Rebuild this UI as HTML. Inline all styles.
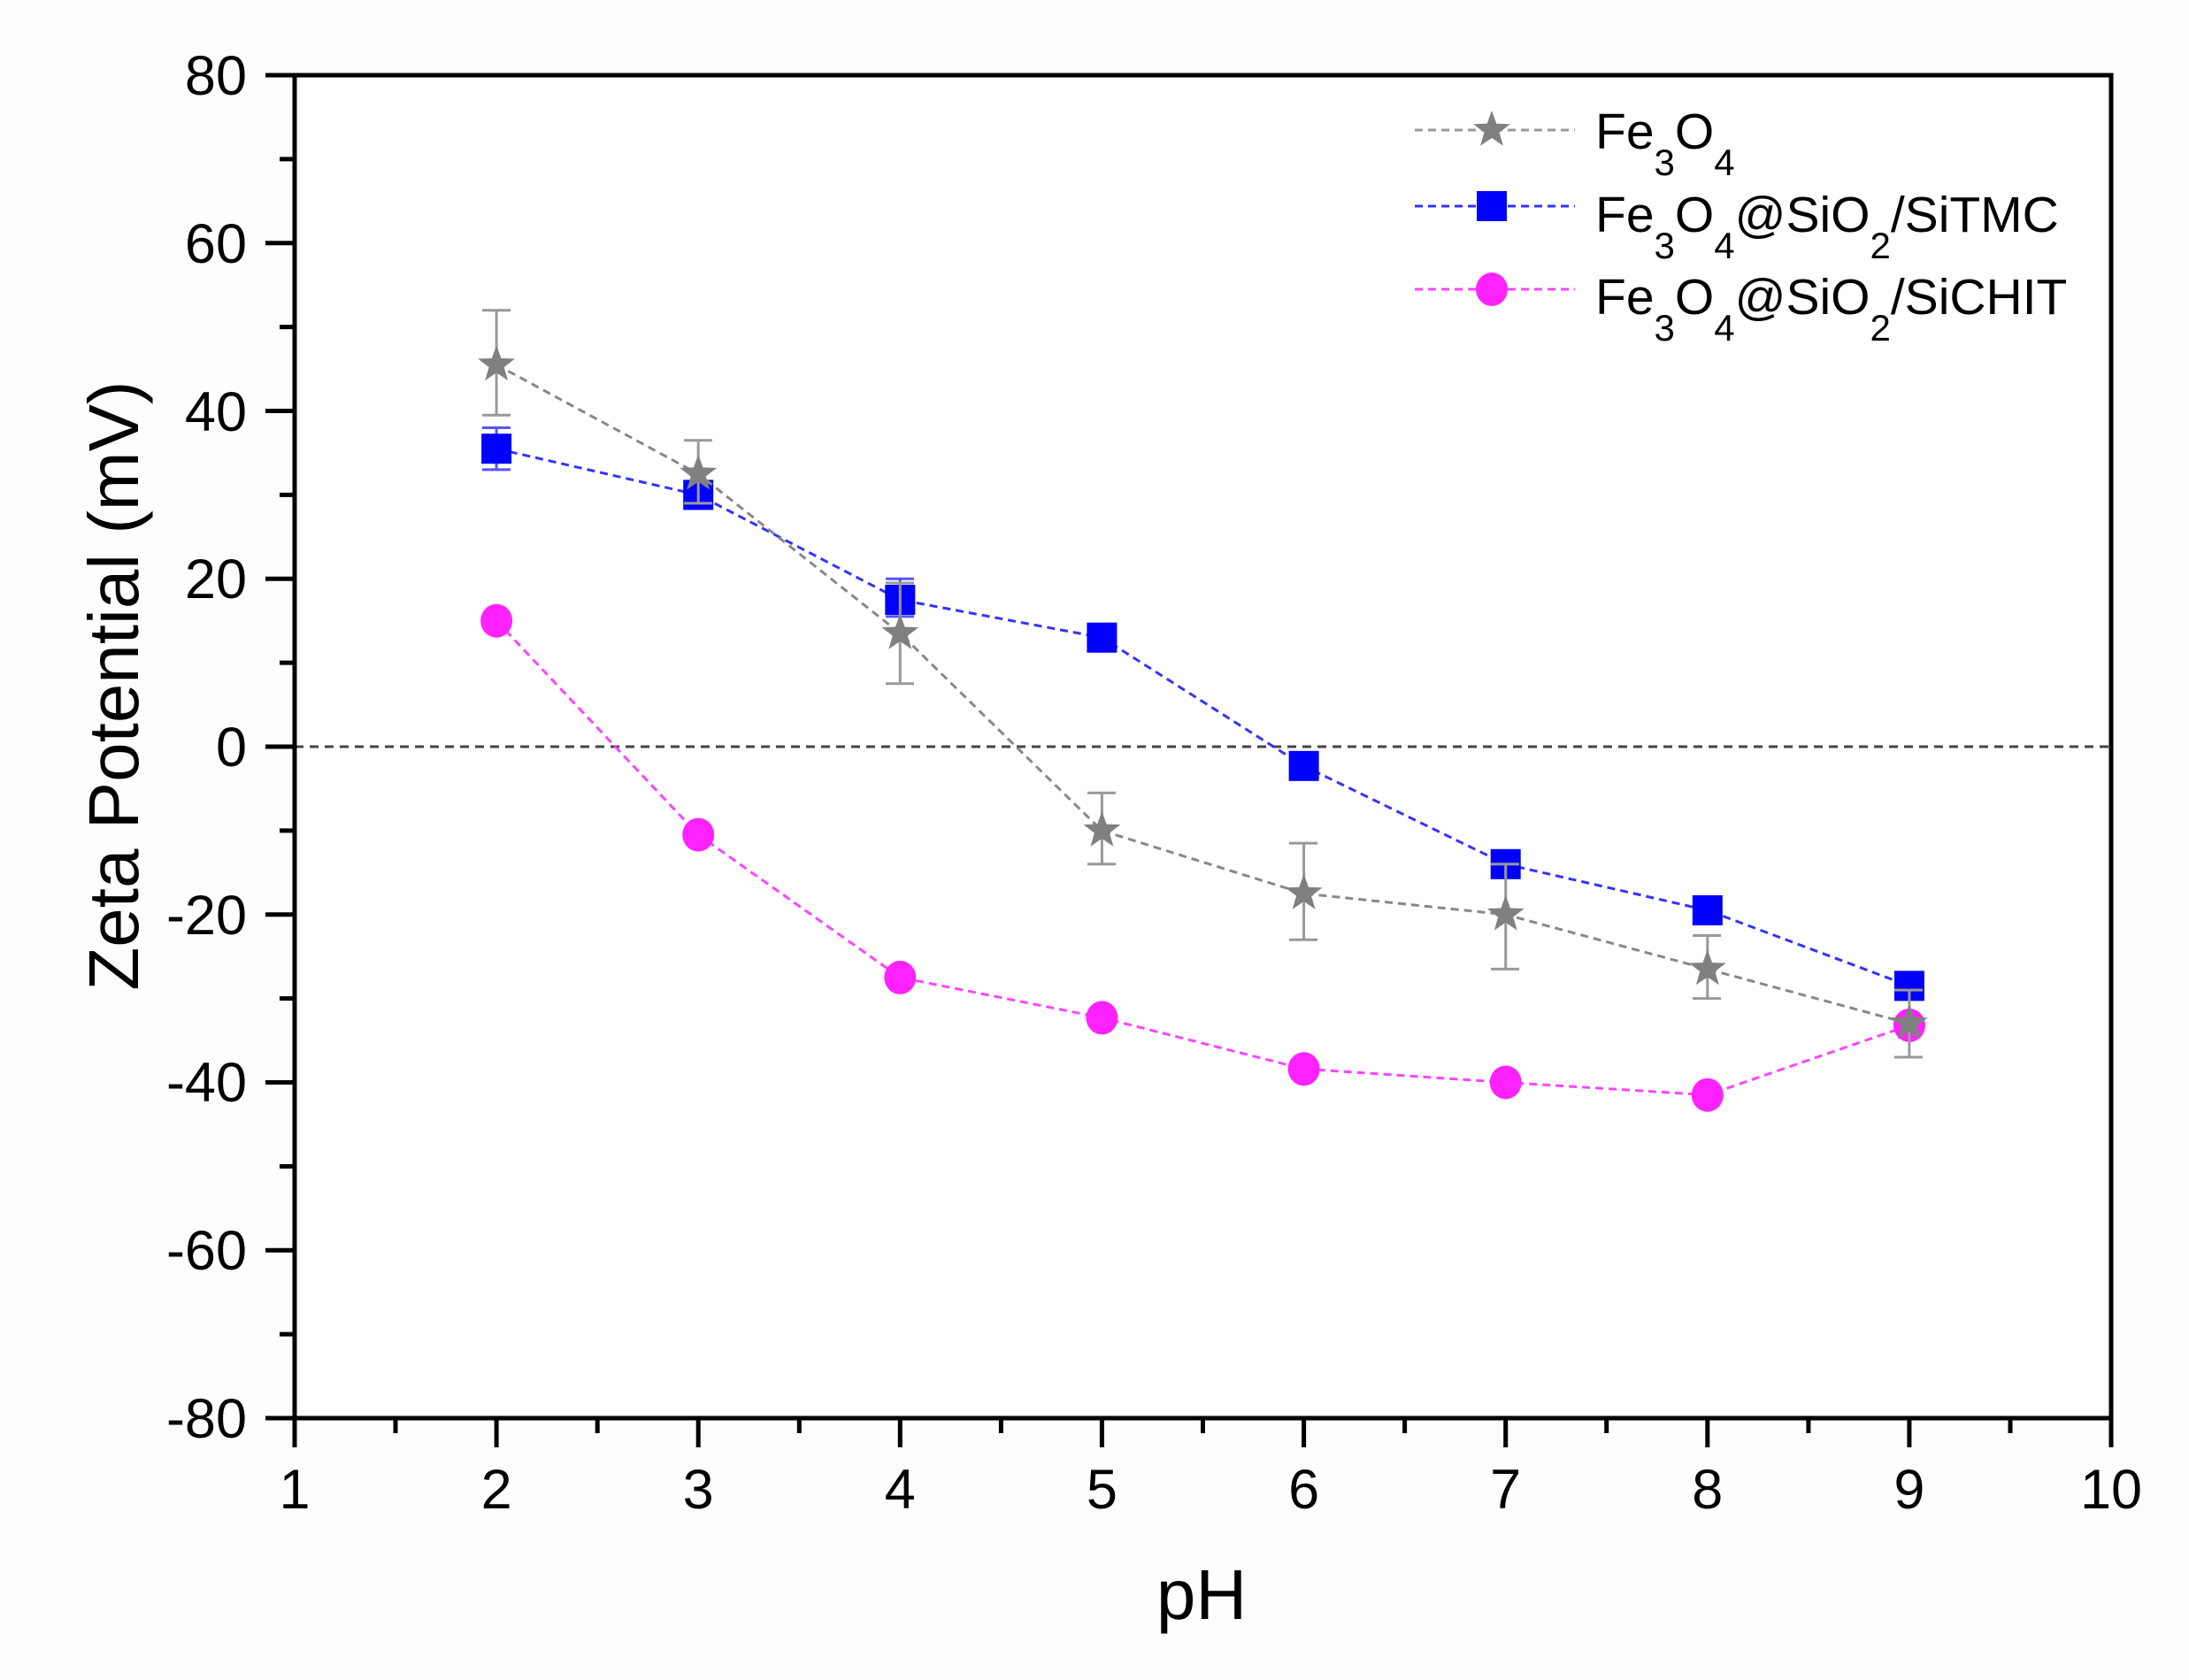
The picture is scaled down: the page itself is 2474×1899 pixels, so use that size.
<!DOCTYPE html>
<html><head><meta charset="utf-8"><style>html,body{margin:0;padding:0;background:#fff}svg{display:block}</style></head>
<body>
<svg width="2474" height="1899" viewBox="0 0 2474 1899" xmlns="http://www.w3.org/2000/svg" font-family="'Liberation Sans', Arial, sans-serif">
<defs>
<path id="star" d="M0,-22 L5.29,-7.28 L20.92,-6.8 L8.56,2.78 L12.93,17.8 L0,9 L-12.93,17.8 L-8.56,2.78 L-20.92,-6.8 L-5.29,-7.28 Z" fill="#808080"/>
</defs>
<rect x="0" y="0" width="2474" height="1899" fill="#fdfdfd"/>
<rect x="333" y="85" width="2053" height="1518" fill="#fff"/>

<!-- zero line -->
<line x1="333" y1="844" x2="2386" y2="844" stroke="#444" stroke-width="3" stroke-dasharray="10 7"/>

<!-- CHIT series -->
<polyline fill="none" stroke="#ff44ff" stroke-width="3" stroke-dasharray="9 6" points="561.1,701.7 789.2,943.6 1017.3,1104.9 1245.4,1150.4 1473.6,1208.3 1701.7,1223.5 1929.8,1237.7 2157.9,1159"/>
<g fill="#ff22ff">
<ellipse cx="561.1" cy="701.7" rx="18" ry="19"/><ellipse cx="789.2" cy="943.6" rx="18" ry="19"/><ellipse cx="1017.3" cy="1104.9" rx="18" ry="19"/><ellipse cx="1245.4" cy="1150.4" rx="18" ry="19"/><ellipse cx="1473.6" cy="1208.3" rx="18" ry="19"/><ellipse cx="1701.7" cy="1223.5" rx="18" ry="19"/><ellipse cx="1929.8" cy="1237.7" rx="18" ry="19"/><ellipse cx="2157.9" cy="1159" rx="18" ry="19"/>
</g>

<!-- SiTMC series -->
<g stroke="#5555ff" stroke-width="3" fill="none">
<path d="M561.1,483.5V530.9M545,483.5H577M545,530.9H577M789.2,549.9V568.9M773,549.9H805M773,568.9H805M1017.3,654.3V696.9M1001,654.3H1033M1001,696.9H1033"/>
</g>
<polyline fill="none" stroke="#3333ff" stroke-width="3" stroke-dasharray="9 6" points="561.1,507.2 789.2,559.4 1017.3,678 1245.4,720.7 1473.6,865.8 1701.7,976.8 1929.8,1029 2157.9,1114.4"/>
<g fill="#0000ff">
<rect x="544.1" y="490.2" width="34" height="34"/><rect x="772.2" y="542.4" width="34" height="34"/><rect x="1000.3" y="661" width="34" height="34"/><rect x="1228.4" y="703.7" width="34" height="34"/><rect x="1456.6" y="848.8" width="34" height="34"/><rect x="1684.7" y="959.8" width="34" height="34"/><rect x="1912.8" y="1012" width="34" height="34"/><rect x="2140.9" y="1097.4" width="34" height="34"/>
</g>

<!-- Fe3O4 series -->
<g stroke="#999" stroke-width="3" fill="none">
<path d="M561.1,350.7V469.2M545,350.7H577M545,469.2H577
M789.2,497.7V568.9M773,497.7H805M773,568.9H805
M1017.3,659V772.8M1001,659H1033M1001,772.8H1033
M1245.4,896.2V976.8M1229,896.2H1261M1229,976.8H1261
M1473.6,953.1V1062.2M1457,953.1H1489M1457,1062.2H1489
M1701.7,976.8V1095.4M1685,976.8H1717M1685,1095.4H1717
M1929.8,1057.5V1128.6M1913,1057.5H1945M1913,1128.6H1945
M2157.9,1119.1V1195M2141,1119.1H2173M2141,1195H2173"/>
</g>
<polyline fill="none" stroke="#888" stroke-width="3" stroke-dasharray="9 6" points="561.1,412.3 789.2,535.7 1017.3,715.9 1245.4,938.9 1473.6,1010 1701.7,1033.8 1929.8,1095.4 2157.9,1157.1"/>
<use href="#star" x="561.1" y="412.3"/><use href="#star" x="789.2" y="535.7"/><use href="#star" x="1017.3" y="715.9"/><use href="#star" x="1245.4" y="938.9"/><use href="#star" x="1473.6" y="1010"/><use href="#star" x="1701.7" y="1033.8"/><use href="#star" x="1929.8" y="1095.4"/><use href="#star" x="2157.9" y="1157.1"/>

<!-- axes box -->
<rect x="333" y="85" width="2053" height="1518" fill="none" stroke="#000" stroke-width="5"/>
<!-- y ticks -->
<g stroke="#000" stroke-width="5">
<path d="M300,85H333M300,274.7H333M300,464.5H333M300,654.2H333M300,844H333M300,1033.7H333M300,1223.5H333M300,1413.2H333M300,1603H333"/>
<path d="M316,179.9H333M316,369.6H333M316,559.4H333M316,749.1H333M316,938.9H333M316,1128.6H333M316,1318.4H333M316,1508.1H333"/>
<path d="M333,1603V1636M561.1,1603V1636M789.2,1603V1636M1017.3,1603V1636M1245.4,1603V1636M1473.6,1603V1636M1701.7,1603V1636M1929.8,1603V1636M2157.9,1603V1636M2386,1603V1636"/>
<path d="M447,1603V1620M675.2,1603V1620M903.3,1603V1620M1131.4,1603V1620M1359.5,1603V1620M1587.6,1603V1620M1815.7,1603V1620M2043.9,1603V1620M2272,1603V1620"/>
</g>

<!-- y tick labels -->
<g font-size="63" text-anchor="end" fill="#000">
<text x="279" y="107">80</text>
<text x="279" y="297">60</text>
<text x="279" y="487">40</text>
<text x="279" y="676">20</text>
<text x="279" y="866">0</text>
<text x="279" y="1056">-20</text>
<text x="279" y="1245">-40</text>
<text x="279" y="1435">-60</text>
<text x="279" y="1625">-80</text>
</g>
<!-- x tick labels -->
<g font-size="63" text-anchor="middle" fill="#000">
<text x="333" y="1705">1</text>
<text x="561.1" y="1705">2</text>
<text x="789.2" y="1705">3</text>
<text x="1017.3" y="1705">4</text>
<text x="1245.4" y="1705">5</text>
<text x="1473.6" y="1705">6</text>
<text x="1701.7" y="1705">7</text>
<text x="1929.8" y="1705">8</text>
<text x="2157.9" y="1705">9</text>
<text x="2386" y="1705">10</text>
</g>

<!-- axis titles -->
<text x="1358" y="1830" font-size="80" text-anchor="middle" fill="#000">pH</text>
<text transform="translate(156,775) rotate(-90)" font-size="80" text-anchor="middle" fill="#000">Zeta Potential (mV)</text>

<!-- legend -->
<line x1="1599" y1="147" x2="1780" y2="147" stroke="#999" stroke-width="3" stroke-dasharray="9 6"/>
<use href="#star" x="1686" y="147"/>
<line x1="1599" y1="233" x2="1780" y2="233" stroke="#3333ff" stroke-width="3" stroke-dasharray="9 6"/>
<rect x="1669" y="216" width="34" height="34" fill="#0000ff"/>
<line x1="1599" y1="327" x2="1780" y2="327" stroke="#ff44ff" stroke-width="3" stroke-dasharray="9 6"/>
<ellipse cx="1686" cy="327" rx="18" ry="19" fill="#ff22ff"/>
<g font-size="57" fill="#000">
<text x="1803" y="168">Fe<tspan font-size="42" dy="30">3</tspan><tspan dy="-30">O</tspan><tspan font-size="42" dy="30">4</tspan></text>
<text x="1803" y="262">Fe<tspan font-size="42" dy="30">3</tspan><tspan dy="-30">O</tspan><tspan font-size="42" dy="30">4</tspan><tspan dy="-30">@SiO</tspan><tspan font-size="42" dy="30">2</tspan><tspan dy="-30">/SiTMC</tspan></text>
<text x="1803" y="355">Fe<tspan font-size="42" dy="30">3</tspan><tspan dy="-30">O</tspan><tspan font-size="42" dy="30">4</tspan><tspan dy="-30">@SiO</tspan><tspan font-size="42" dy="30">2</tspan><tspan dy="-30">/SiCHIT</tspan></text>
</g>
</svg>
</body></html>
